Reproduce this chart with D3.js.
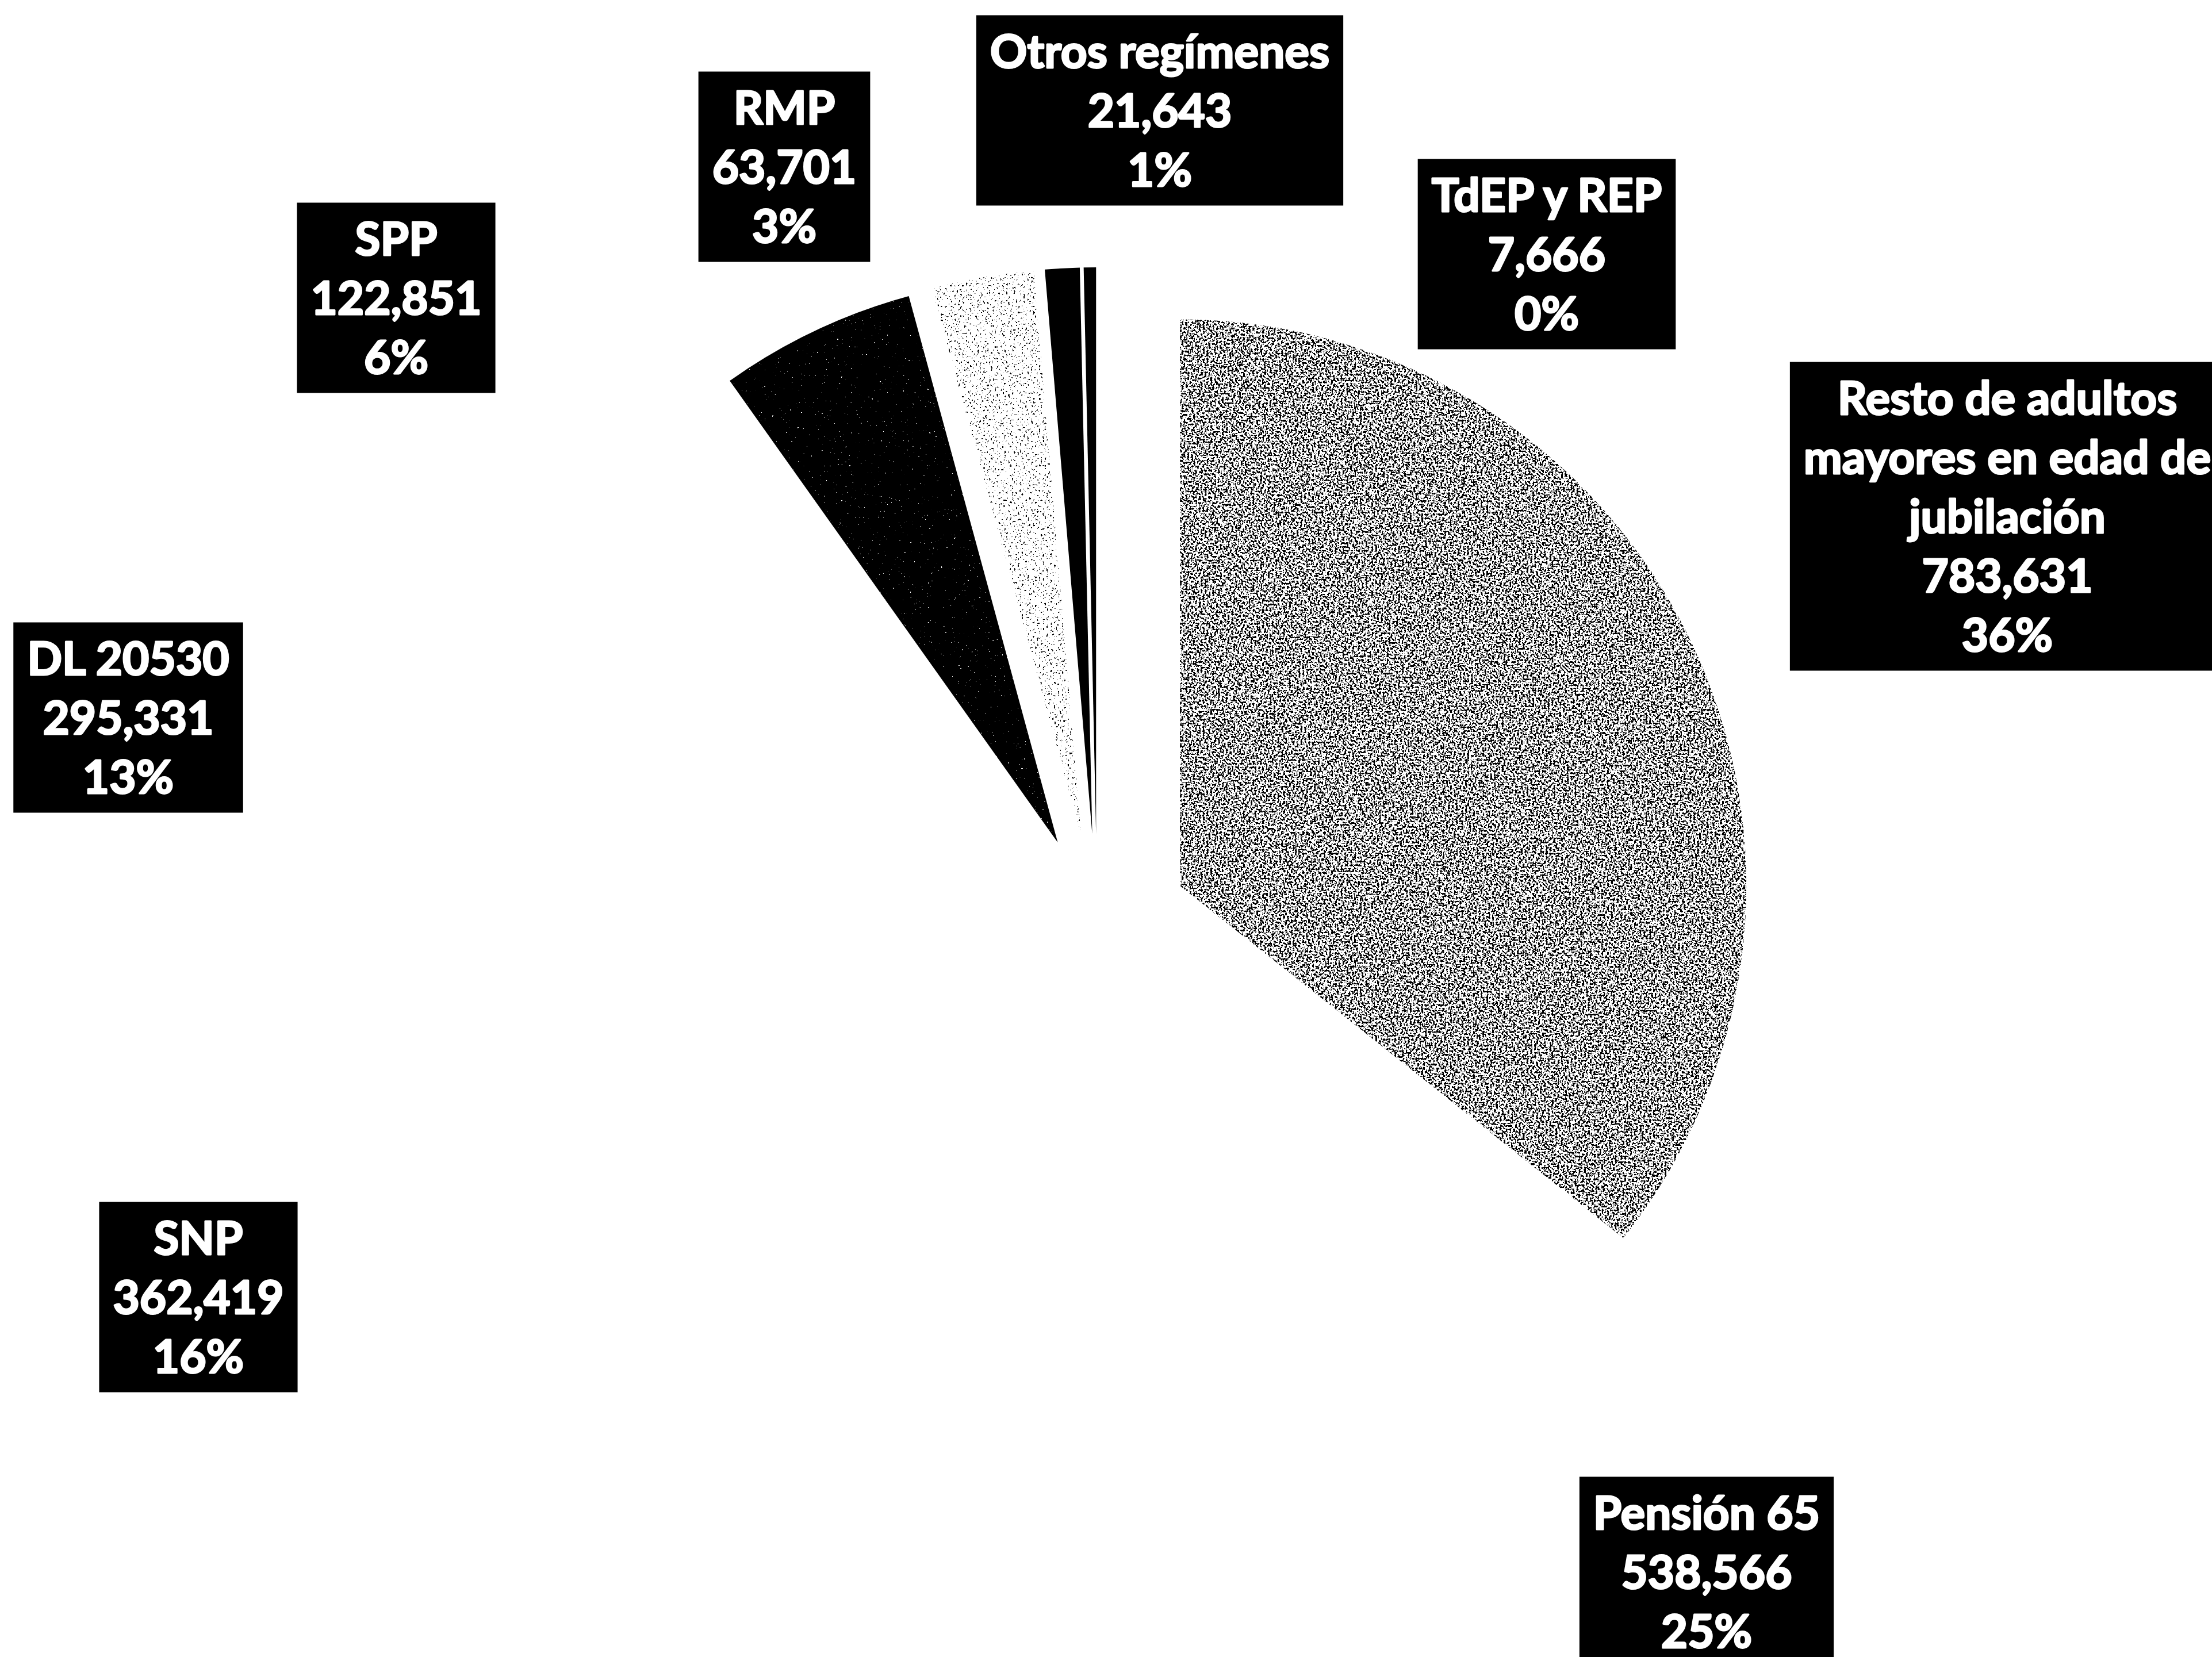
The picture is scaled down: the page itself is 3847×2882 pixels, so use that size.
<!DOCTYPE html>
<html>
<head>
<meta charset="utf-8">
<script src="https://cdn.jsdelivr.net/npm/d3@7"></script>
<style>
  body { margin: 0; background: #fff; }
  svg { display: block; }
</style>
</head>
<body>
<div id="app"></div>
<script>
const WIDTH = 3847;
const HEIGHT = 2882;

// data, in Excel order (first slice starts at 12 o'clock)
const categories = [
  "Resto de adultos mayores en edad de jubilación",
  "Pensión 65",
  "SNP",
  "DL 20530",
  "SPP",
  "RMP",
  "Otros regímenes",
  "TdEP y REP",
];
const values = [783631, 538566, 362419, 295331, 122851, 63701, 21643, 7666];
const percentLabels = ["36%", "25%", "16%", "13%", "6%", "3%", "1%", "0%"];
const nameLines = [
  ["Resto de adultos", "mayores en edad de", "jubilación"],
  ["Pensión 65"],
  ["SNP"],
  ["DL 20530"],
  ["SPP"],
  ["RMP"],
  ["Otros regímenes"],
  ["TdEP y REP"],
];

// styling / layout
const sliceStyle = ["mid", "none", "none", "none", "dark", "light", "solid", "solid"];
const labelCenters = [
  [3491, 898], [2968, 2734], [345, 2256], [223, 1248],
  [689, 518], [1364, 290], [2017, 192], [2690, 442],
];

const CX = 1908;
const CY = 1610;
const RADIUS = 985;
const EXPLODE = 160;
const FONT_SIZE = 80;
const LINE_HEIGHT = 103;
const BOX_PAD = 24;

const svg = d3.select("#app")
  .append("svg")
  .attr("width", WIDTH)
  .attr("height", HEIGHT)
  .attr("viewBox", `0 0 ${WIDTH} ${HEIGHT}`);

svg.append("rect").attr("width", WIDTH).attr("height", HEIGHT).attr("fill", "#fff");

const defs = svg.append("defs");

// scanned-looking stipple: noise thresholded into black specks, clipped to the slice
function stippleFilter(id, threshold, freq, seed) {
  const f = defs.append("filter")
    .attr("id", id)
    .attr("x", 0).attr("y", 0).attr("width", 1).attr("height", 1)
    .attr("color-interpolation-filters", "sRGB");
  f.append("feTurbulence")
    .attr("type", "fractalNoise")
    .attr("baseFrequency", freq)
    .attr("numOctaves", 2)
    .attr("seed", seed)
    .attr("result", "noise");
  f.append("feColorMatrix")
    .attr("in", "noise")
    .attr("type", "matrix")
    .attr("values", `0 0 0 0 0  0 0 0 0 0  0 0 0 0 0  -40 0 0 0 ${40 * threshold}`)
    .attr("result", "specks");
  f.append("feComposite")
    .attr("in", "specks")
    .attr("in2", "SourceAlpha")
    .attr("operator", "in");
}
stippleFilter("stipple-mid", 0.48, 0.3, 3);
stippleFilter("stipple-light", 0.34, 0.3, 9);
stippleFilter("stipple-dark", 0.8, 0.3, 5);

const pie = d3.pie().sort(null).value((d) => d);
const arc = d3.arc().innerRadius(0).outerRadius(RADIUS);
const arcs = pie(values);

const slices = svg.append("g")
  .attr("id", "slices")
  .attr("transform", `translate(${CX},${CY})`);

slices.selectAll("path")
  .data(arcs)
  .join("path")
  .attr("transform", (d) => {
    const mid = (d.startAngle + d.endAngle) / 2;
    return `translate(${EXPLODE * Math.sin(mid)},${-EXPLODE * Math.cos(mid)})`;
  })
  .attr("d", arc)
  .attr("fill", (d, i) => (sliceStyle[i] === "none" ? "#fff" : "#000"))
  .attr("filter", (d, i) => {
    const s = sliceStyle[i];
    if (s === "mid") return "url(#stipple-mid)";
    if (s === "light") return "url(#stipple-light)";
    if (s === "dark") return "url(#stipple-dark)";
    return null;
  });

// data labels: black boxes with white bold text
const fmt = d3.format(",");
const labels = svg.append("g").attr("id", "labels");

arcs.forEach((d, i) => {
  const lines = [...nameLines[i], fmt(values[i]), percentLabels[i]];
  const [lx, ly] = labelCenters[i];
  const g = labels.append("g").attr("transform", `translate(${lx},${ly})`);
  const box = g.append("rect").attr("fill", "#000");
  const text = g.append("text")
    .attr("text-anchor", "middle")
    .attr("fill", "#fff")
    .attr("stroke", "#fff")
    .attr("stroke-width", 3)
    .attr("stroke-linejoin", "round")
    .style("font-family", "Lato, 'Open Sans', sans-serif")
    .style("font-weight", 700)
    .style("font-size", `${FONT_SIZE}px`);
  const n = lines.length;
  let maxW = 0;
  lines.forEach((line, j) => {
    const t = text.append("tspan")
      .attr("x", 0)
      .attr("y", (j - (n - 1) / 2) * LINE_HEIGHT + FONT_SIZE * 0.36)
      .text(line);
    maxW = Math.max(maxW, t.node().getComputedTextLength());
  });
  const w = maxW + 2 * BOX_PAD;
  const h = n * LINE_HEIGHT + 22;
  box.attr("x", -w / 2).attr("y", -h / 2).attr("width", w).attr("height", h);
});
</script>
</body>
</html>
